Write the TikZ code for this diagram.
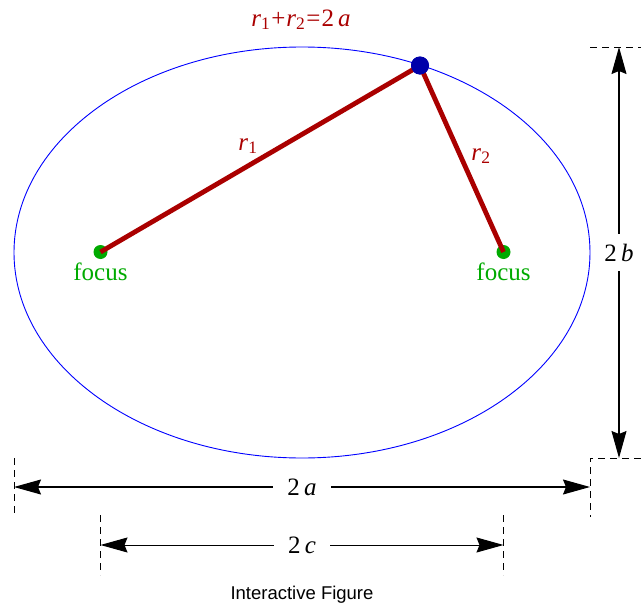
\documentclass[tikz,border=0pt]{standalone}
\usepackage{fontspec}
\setmainfont{Liberation Serif}
\newfontfamily\figsans{Liberation Sans}
\usetikzlibrary{arrows.meta}
\definecolor{dkred}{RGB}{170,0,0}
\definecolor{fgreen}{RGB}{0,170,0}
\definecolor{dotblue}{RGB}{0,0,170}
\tikzset{
  tip/.tip={Stealth[length=27pt,width=15pt,inset=3pt]},
  dim/.style={line width=1.1pt, tip-tip},
  ext/.style={line width=1pt, dash pattern=on 7pt off 5pt},
  seg/.style={line width=4.8pt, draw=dkred},
  txt/.style={font=\fontsize{25}{28}\selectfont, inner sep=0pt, anchor=base},
  gaplab/.style={font=\fontsize{25}{28}\selectfont, fill=white, inner xsep=14pt, inner ysep=8pt},
  fdot/.style={circle, fill=fgreen, minimum size=14pt, inner sep=0pt},
  pdot/.style={circle, fill=dotblue, minimum size=18pt, inner sep=0pt}
}
\begin{document}
\begin{tikzpicture}[x=1pt,y=-1pt]
\useasboundingbox (0,0) rectangle (641,608);
% ellipse
\draw[blue, line width=0.9pt] (302,252.5) ellipse [x radius=288, y radius=205.5];
% foci and point
\node[fdot] (F1) at (100.5,252) {};
\node[fdot] (F2) at (503.5,252) {};
\node[pdot] (P) at (420,65.5) {};
\draw[seg] (F1.center) -- (P.center);
\draw[seg] (F2.center) -- (P.center);
\node[pdot] at (P) {};
% labels
\node[txt, text=dkred] (eq) at (301,26) {\textit{r}\textsubscript{1}\kern1pt+\kern1pt\textit{r}\textsubscript{2}\kern1pt=\kern1pt2\,\textit{a}};
\node[txt, text=dkred] (r1) at (248,150) {\textit{r}\textsubscript{1}};
\node[txt, text=dkred] (r2) at (481,160) {\textit{r}\textsubscript{2}};
\node[txt, text=fgreen] (fl) at (100.5,280) {focus};
\node[txt, text=fgreen] (fr) at (503.5,280) {focus};
% extension lines
\coordinate (T1) at (590,47);  \coordinate (T2) at (641,47);
\coordinate (B1) at (590,458); \coordinate (B2) at (641,458);
\coordinate (B3) at (590,517);
\coordinate (L1) at (14,458);  \coordinate (L2) at (14,517);
\coordinate (C1) at (100.5,515); \coordinate (C2) at (100.5,575);
\coordinate (D1) at (503.5,515); \coordinate (D2) at (503.5,575);
\draw[ext] (T1) -- (T2);
\draw[ext] (B2) -- (B1) -- (B3);
\draw[ext] (L1) -- (L2);
\draw[ext] (C1) -- (C2);
\draw[ext] (D1) -- (D2);
% dimension arrows
\coordinate (V1) at (619,458); \coordinate (V2) at (619,47);
\draw[dim] (V1) -- node[gaplab, inner xsep=2pt, inner ysep=10pt] (lb) {2\,\textit{b}} (V2);
\coordinate (H1) at (14,487); \coordinate (H2) at (590,487);
\draw[dim] (H1) -- node[gaplab] (la) {2\,\textit{a}} (H2);
\coordinate (K1) at (100.5,545); \coordinate (K2) at (503.5,545);
\draw[dim, line width=1pt] (K1) -- node[gaplab] (lc) {2\,\textit{c}} (K2);
% caption
\node[inner sep=0pt, anchor=base, font=\figsans\fontsize{18.5}{20}\selectfont] (cap) at (302,599) {Interactive Figure};
\end{tikzpicture}
\end{document}
